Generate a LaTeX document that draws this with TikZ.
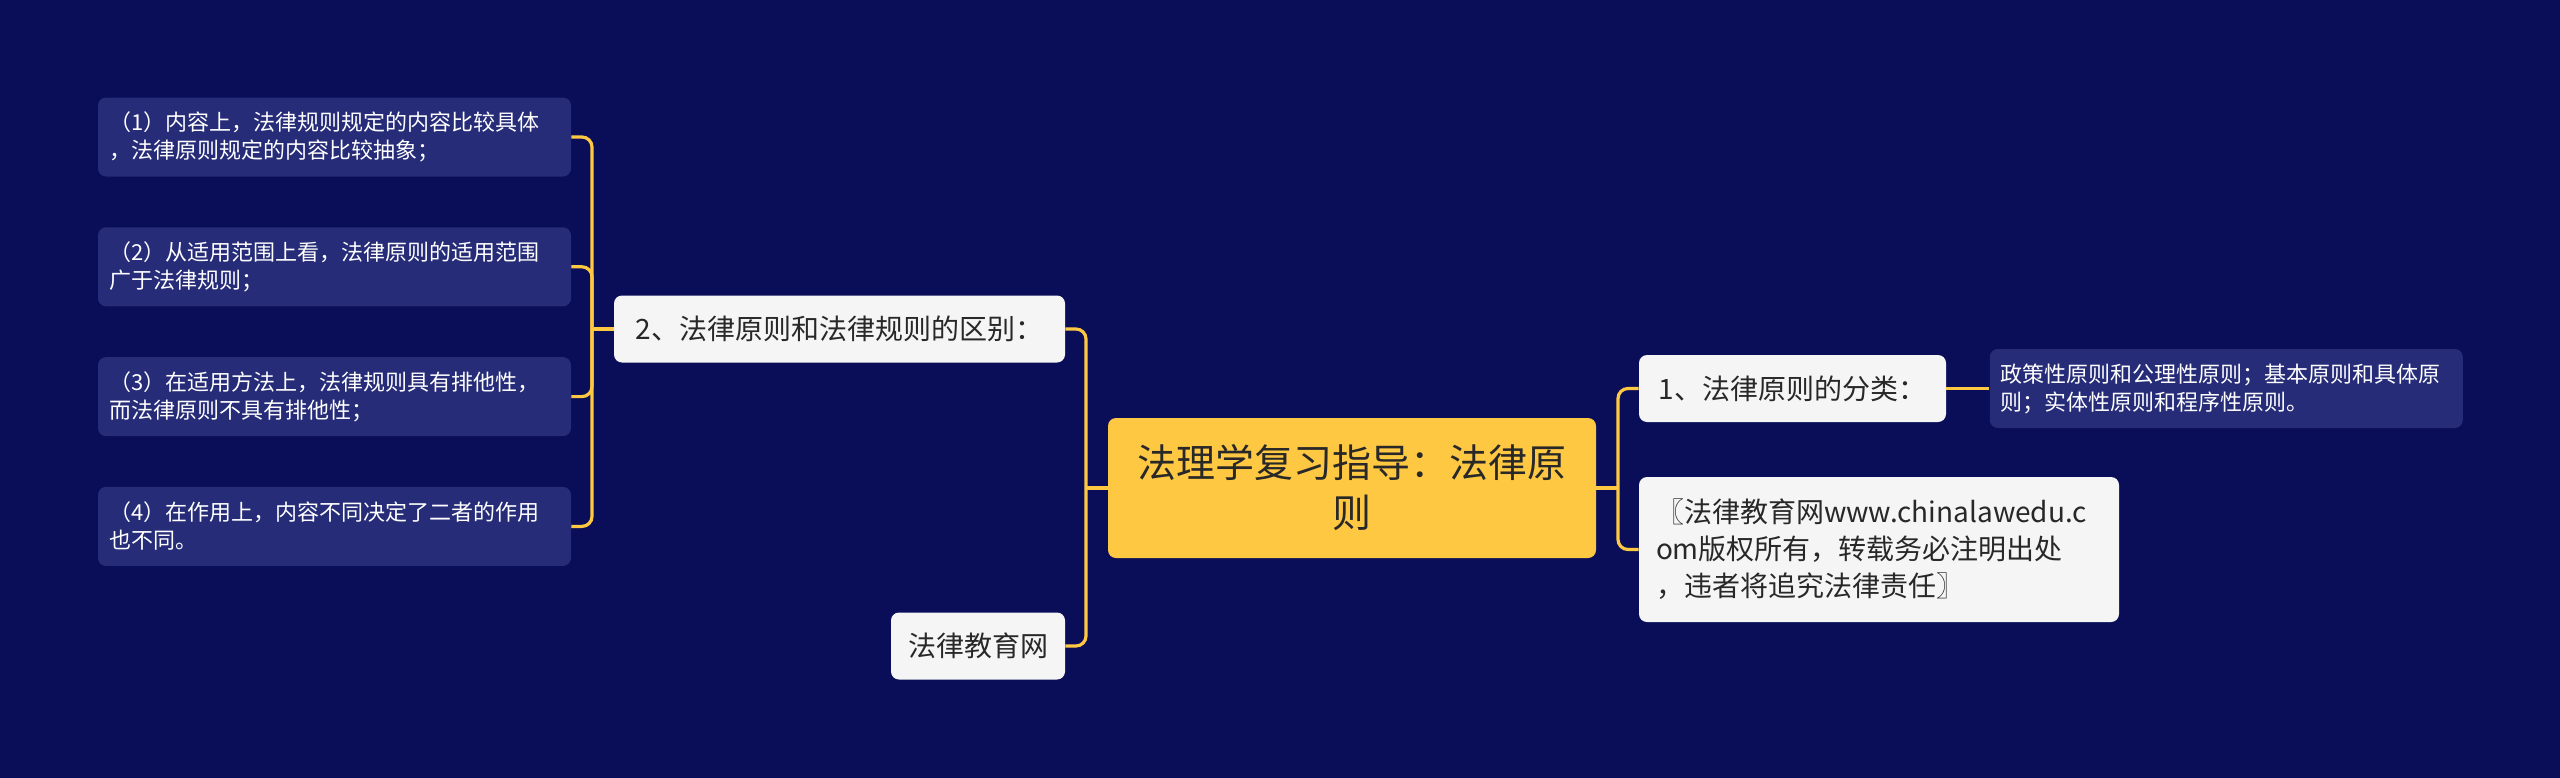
\documentclass[tikz,border=0pt]{standalone}
\usepackage{fontspec}
\setmainfont{Noto Sans CJK SC}
\usetikzlibrary{positioning, calc}
\definecolor{bgnavy}{RGB}{10,14,88}
\definecolor{leafblue}{RGB}{38,44,120}
\definecolor{topicgold}{RGB}{255,200,67}
\definecolor{cardwhite}{RGB}{245,245,245}
\definecolor{inkgray}{RGB}{40,40,40}

\begin{document}
\begin{tikzpicture}[
    x=0.5pt, y=-0.5pt,
    card/.style={rectangle, rounded corners=4pt, inner sep=0pt, align=center},
    topic/.style={card, fill=topicgold, text=inkgray, font=\fontsize{19.5}{25}\selectfont, minimum width=244pt, minimum height=70pt},
    branch/.style={card, fill=cardwhite, text=inkgray, font=\fontsize{14}{18.5}\selectfont, minimum height=33.5pt},
    leaf/.style={card, fill=leafblue, text=white, font=\fontsize{11}{14}\selectfont, align=left, inner xsep=5.5pt, text width=225.5pt, minimum height=39.5pt},
    link/.style={draw=topicgold, line width=1.6pt, rounded corners=5pt}
]
    % canvas
    \useasboundingbox (0,0) rectangle (2560,777);
    \fill[bgnavy] (-10,-10) rectangle (2570,787);

    % central topic
    \node[topic] (title) at (1352,488) {法理学复习指导：法律原\\则};

    % left side
    \node[branch, minimum width=225.5pt] (diff) at (839.5,329) {2、法律原则和法律规则的区别：};
    \node[branch, minimum width=87pt] (site) at (978,646) {法律教育网};

    \node[leaf] (rule1) at (334.5,137) {（1）内容上，法律规则规定的内容比较具体\\，法律原则规定的内容比较抽象；};
    \node[leaf, below=25pt of rule1] (rule2) {（2）从适用范围上看，法律原则的适用范围\\广于法律规则；};
    \node[leaf, below=25pt of rule2] (rule3) {（3）在适用方法上，法律规则具有排他性，\\而法律原则不具有排他性；};
    \node[leaf, below=25pt of rule3] (rule4) {（4）在作用上，内容不同决定了二者的作用\\也不同。};

    % right side
    \node[branch, minimum width=153.5pt] (kinds) at (1792.5,388.5) {1、法律原则的分类：};
    \node[leaf, right=21.5pt of kinds] (kindsnote) {政策性原则和公理性原则；基本原则和具体原\\则；实体性原则和程序性原则。};
    \node[branch, align=left, inner xsep=8.5pt, text width=223pt, minimum height=72.5pt] (notice) at (1879,549.5) {〖法律教育网www.chinalawedu.c\\om版权所有，转载务必注明出处\\，违者将追究法律责任〗};

    % connectors
    \coordinate (lhub) at (1086,488);
    \coordinate (rhub) at (1618,488);
    \coordinate (dhub) at (592,329);

    \draw[link] (title.west) -- (lhub);
    \draw[link] (lhub) |- (diff.east);
    \draw[link] (lhub) |- (site.east);

    \draw[link] (diff.west) -- (dhub);
    \draw[link] (dhub) |- (rule1.east);
    \draw[link] (dhub) |- (rule2.east);
    \draw[link] (dhub) |- (rule3.east);
    \draw[link] (dhub) |- (rule4.east);

    \draw[link] (title.east) -- (rhub);
    \draw[link] (rhub) |- (kinds.west);
    \draw[link] (rhub) |- (notice.west);
    \draw[link] (kinds.east) -- (kindsnote.west);
\end{tikzpicture}
\end{document}
